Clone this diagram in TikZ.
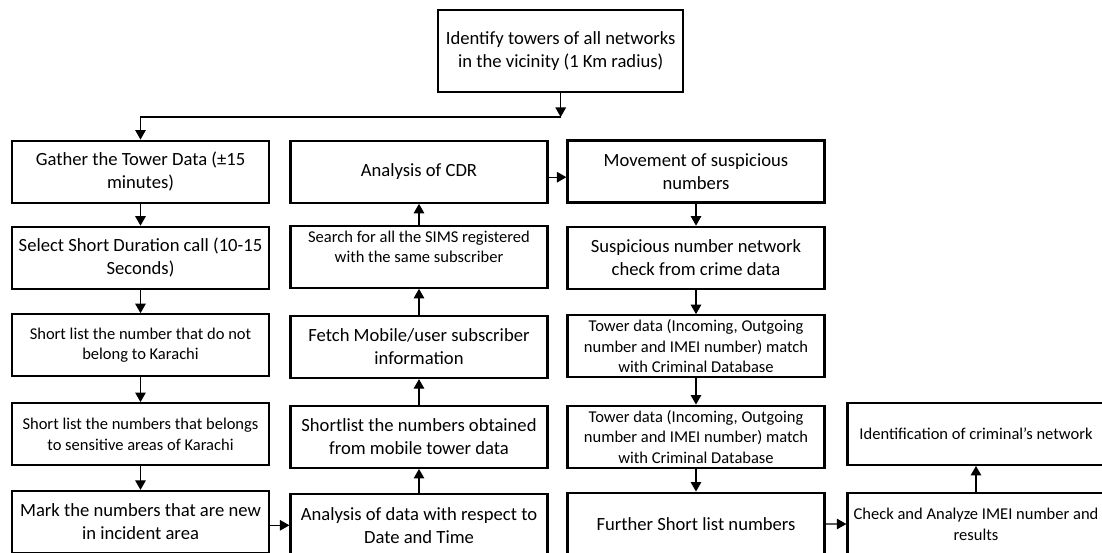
\documentclass[tikz,border=0pt]{standalone}
\usepackage{fontspec}
\setmainfont{Carlito}
\usetikzlibrary{arrows.meta}

\begin{document}
\begin{tikzpicture}[x=0.02cm, y=-0.02cm,
  box/.style={draw, line width=1.3pt, minimum width=5.14cm, minimum height=1.24cm, inner sep=1pt, align=center, font=\fontsize{10.6}{13.2}\selectfont},
  small/.style={font=\fontsize{9.4}{11.6}\selectfont},
  arr/.style={line width=0.7pt, -{Triangle[width=0.21cm, length=0.19cm]}}]

\useasboundingbox (0,0) rectangle (1102,553);
\clip (0,0) rectangle (1102,553);

\node [box, minimum width=4.9cm, minimum height=1.64cm] (top) at (560.7,51) {Identify towers of all networks\\ in the vicinity (1 Km radius)};
\coordinate (c1) at (560.7,117);

\node [box] (g1) at (140.5,171.7) {Gather the Tower Data (±15\\ minutes)};
\node [box] (g2) at (140.5,257.8) {Select Short Duration call (10-15\\ Seconds)};
\node [box, small] (g3) at (140.5,345.3) {Short list the number that do not\\ belong to Karachi};
\node [box, small] (g4) at (140.5,434.2) {Short list the numbers that belongs\\ to sensitive areas of Karachi};
\node [box] (g5) at (140.5,522) {Mark the numbers that are new\\ in incident area};

\node [box] (h1) at (419,171.7) {Analysis of CDR};
\node [box, small] (h2) at (419,256.7) {Search for all the SIMS registered\\ with the same subscriber\\ \mbox{}};
\node [box] (h3) at (419,347) {Fetch Mobile/user subscriber\\ information};
\node [box] (h4) at (419,436.8) {Shortlist the numbers obtained\\ from mobile tower data};
\node [box] (h5) at (419,525.3) {Analysis of data with respect to\\ Date and Time};

\node [box] (m1) at (696,171.5) {Movement of suspicious\\ numbers};
\node [box] (m2) at (696,257.8) {Suspicious number network\\ check from crime data};
\node [box, small] (m3) at (696,346.3) {Tower data (Incoming, Outgoing\\ number and IMEI number) match\\ with Criminal Database};
\node [box, small] (m4) at (696,436.7) {Tower data (Incoming, Outgoing\\ number and IMEI number) match\\ with Criminal Database};
\node [box] (m5) at (696,523.7) {Further Short list numbers};

\node [box, small] (n4) at (976,433.8) {Identification of criminal’s network};
\node [box, small] (n5) at (976,524.3) {Check and Analyze IMEI number and\\ results};

\draw [arr] (top) edge (c1);
\draw [arr] (c1) -| (g1);

\draw [arr] (g1) edge (g2);
\draw [arr] (g2) edge (g3);
\draw [arr] (g3) edge (g4);
\draw [arr] (g4) edge (g5);
\draw [arr] (g5.east |- h5) -- (h5.west);

\draw [arr] (h5) edge (h4);
\draw [arr] (h4) edge (h3);
\draw [arr] (h3) edge (h2);
\draw [arr] (h2) edge (h1);
\draw [arr] ([yshift=-0.11cm]h1.east) -- ([yshift=-0.11cm]h1.east -| m1.west);

\draw [arr] (m1) edge (m2);
\draw [arr] (m2) edge (m3);
\draw [arr] (m3) edge (m4);
\draw [arr] (m4) edge (m5);
\draw [arr] (m5) edge (n5);

\draw [arr] (n5) edge (n4);
\end{tikzpicture}
\end{document}
